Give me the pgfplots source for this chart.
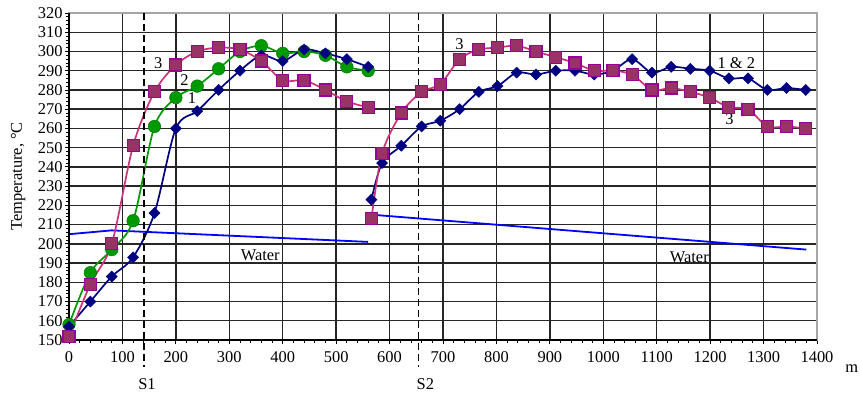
\documentclass[border=0pt]{standalone}
\usepackage{fontspec}
\setmainfont{Liberation Serif}
\usepackage{pgfplots}
\pgfplotsset{compat=1.18}
\definecolor{navyc}{HTML}{000080}
\definecolor{greenc}{HTML}{009900}
\definecolor{pinkfill}{HTML}{993366}
\definecolor{pinkedge}{HTML}{990099}
\definecolor{pinkline}{HTML}{CC3377}
\definecolor{waterc}{HTML}{0000FF}
\begin{document}
\begin{tikzpicture}
\begin{axis}[
  scale only axis, width=748bp, height=327bp,
  xmin=0, xmax=1400, ymin=150, ymax=320,
  xtick={0,100,...,1400}, ytick={150,160,...,320},
  minor x tick num=4, minor y tick num=4,
  tick pos=left,
  grid=major, major grid style={black!85, line width=1.4bp},
  tick align=outside, major tick length=4bp, minor tick length=3bp,
  tick style={black, line width=0.8bp},
  axis line style={gray!70, line width=1.2bp},
  ticklabel style={font=\fontsize{16.5}{18}\selectfont},
  xticklabel style={yshift=-4bp},
  yticklabel style={xshift=1bp},
  /pgf/number format/assume math mode=true,
  /pgf/number format/1000 sep={},
  ylabel={Temperature, °C},
  ylabel style={font=\fontsize{16.5}{18}\selectfont, at={(axis description cs:-0.068,0.5)}, anchor=center},
  clip=false,
]
% water
\addplot[color=waterc, line width=1.8bp] coordinates {(0,205) (80,207) (560,201)};
\addplot[color=waterc, line width=1.8bp] coordinates {(573,215) (1380,197)};
% series 2 (green)
\addplot[color=greenc, line width=1.7bp, smooth, tension=0.5, mark=*, mark size=6.3bp,
  mark options={fill=greenc, draw=greenc!80!black, line width=0.5bp}] coordinates {
(0,158) (40,185) (80,197) (120,212) (160,261) (200,276) (240,282) (280,291) (320,300)
(360,303) (400,299) (440,300) (480,298) (520,292) (560,290)};
% series 1 (blue) left
\addplot[color=navyc, line width=1.7bp, smooth, tension=0.5, mark=square*, mark size=3.9bp,
  mark options={rotate=45, fill=navyc, draw=navyc, line width=0.5bp}] coordinates {
(0,157) (40,170) (80,183) (120,193) (160,216) (200,260) (240,269) (280,280) (320,290)
(360,298) (400,295) (440,301) (480,299) (520,296) (560,292)};
% series 1&2 (blue) right
\addplot[color=navyc, line width=1.7bp, smooth, tension=0.5, mark=square*, mark size=3.9bp,
  mark options={rotate=45, fill=navyc, draw=navyc, line width=0.5bp}] coordinates {
(566,223) (586,242) (622,251) (660,261) (695,264) (731,270) (767,279) (802,282) (838,289)
(874,288) (911,290) (947,290) (983,288) (1018,290) (1054,296) (1091,289) (1127,292)
(1163,291) (1199,290) (1235,286) (1271,286) (1307,280) (1343,281) (1379,280)};
% series 3 (pink) left
\addplot[color=pinkline, line width=1.7bp, smooth, tension=0.5, mark=square*, mark size=6bp,
  mark options={fill=pinkfill, draw=pinkedge, line width=1.2bp}] coordinates {
(0,152) (40,179) (80,200) (120,251) (160,279) (200,293) (240,300) (280,302) (320,301)
(360,295) (400,285) (440,285) (480,280) (520,274) (560,271)};
% series 3 (pink) right
\addplot[color=pinkline, line width=1.7bp, smooth, tension=0.5, mark=square*, mark size=6bp,
  mark options={fill=pinkfill, draw=pinkedge, line width=1.2bp}] coordinates {
(566,213) (586,247) (622,268) (660,279) (695,283) (731,296) (767,301) (802,302) (838,303)
(874,300) (911,297) (947,294) (983,290) (1018,290) (1054,288) (1091,280) (1127,281)
(1163,279) (1199,276) (1235,271) (1271,270) (1307,261) (1343,261) (1379,260)};
% black left and bottom axis lines
\draw[black, line width=1.4bp] (rel axis cs:0,1) -- (rel axis cs:0,0) -- (rel axis cs:1,0);
% section lines
\draw[black, line width=1.6bp, dash pattern=on 7bp off 4bp] (axis cs:140,320) -- (axis cs:140,136);
\draw[black, line width=1.6bp, dash pattern=on 7bp off 4bp] (axis cs:654,320) -- (axis cs:654,136);
% labels
\begin{scope}[every node/.style={font=\fontsize{16.5}{18}\selectfont, inner sep=0pt}]
\node at (axis cs:167,294) {3};
\node at (axis cs:216,285) {2};
\node at (axis cs:230,276) {1};
\node at (axis cs:731,304) {3};
\node at (axis cs:1249,294) {1 \& 2};
\node at (axis cs:1236,265) {3};
\node at (axis cs:358,194) {Water};
\node at (axis cs:1161,193) {Water};
\node at (axis cs:146,127) {S1};
\node at (axis cs:667,127) {S2};
\node at (axis cs:1465,135) {m};
\end{scope}
\end{axis}
\pgfresetboundingbox
\path[use as bounding box] (-69bp,-57bp) rectangle (792bp,340bp);
\end{tikzpicture}
\end{document}
